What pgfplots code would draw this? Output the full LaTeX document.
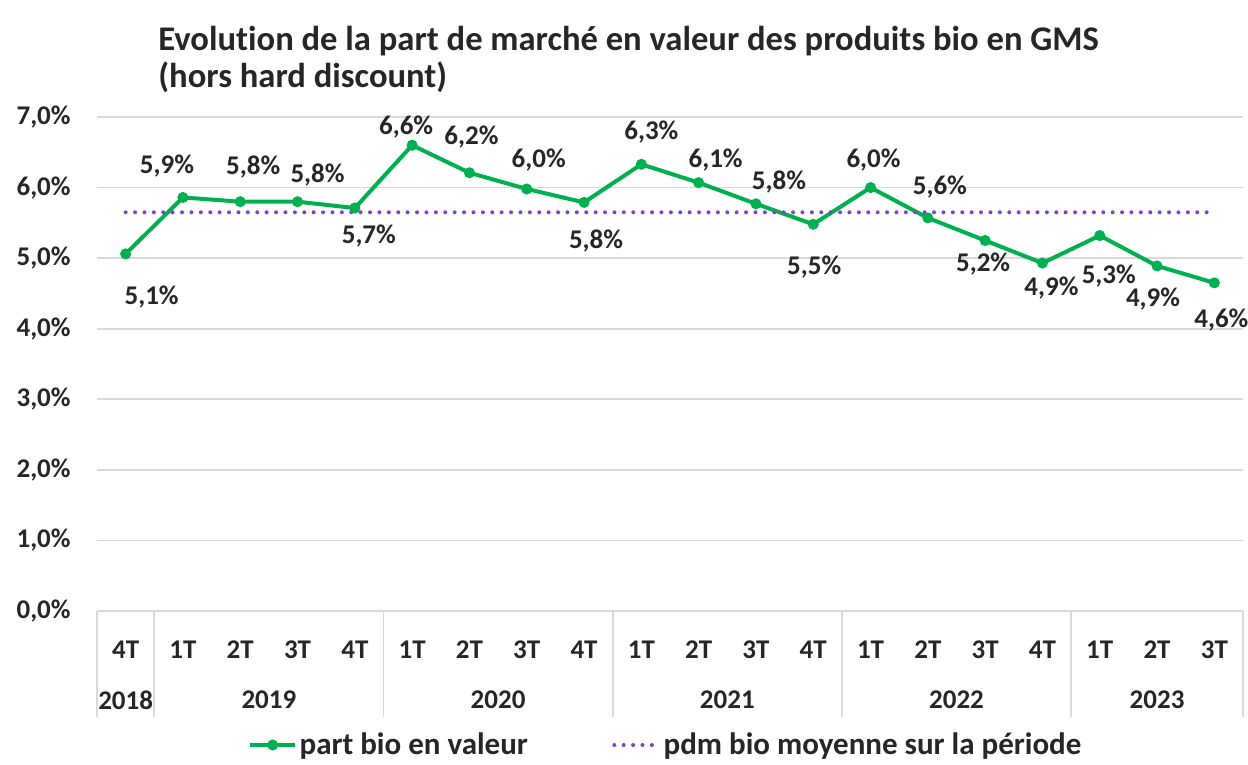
\documentclass[border=0pt]{standalone}
\usepackage{pgfplots}
\pgfplotsset{compat=1.18}
\usepackage{pgfplotstable}
\usepackage{fontspec}
\setmainfont{Carlito}[Ligatures=NoCommon]
\definecolor{bioGreen}{HTML}{00B050}
\definecolor{pdmPurple}{HTML}{8040C8}
\definecolor{gridGray}{HTML}{D9D9D9}
\definecolor{txt}{HTML}{262626}

\pgfplotstableread{
x y dx dy lab
0 5.06 13 -21.5 5,1
1 5.86 -8 15.5 5,9
2 5.80 6.5 17.5 5,8
3 5.80 10 13.5 5,8
4 5.71 7 -14 5,7
5 6.60 -3 9 6,6
6 6.21 1 18 6,2
7 5.98 6 14.5 6,0
8 5.79 6 -19.5 5,8
9 6.33 5 16 6,3
10 6.07 8.5 11.5 6,1
11 5.77 11.5 11 5,8
12 5.48 0.5 -21.5 5,5
13 6.00 1.5 14 6,0
14 5.57 6 15.5 5,6
15 5.25 -1 -12 5,2
16 4.93 4.5 -12.5 4,9
17 5.32 4.5 -20 5,3
18 4.89 -2 -16.5 4,9
19 4.65 3.5 -18.5 4,6
}\bio

\pgfplotstableread{
x y
0 5.65
19 5.65
}\moy

\begin{document}
\begin{tikzpicture}[x=1pt,y=1pt]
\useasboundingbox (0,0) rectangle (624,382.5);
\node[anchor=base west, text=txt, inner sep=0pt, font=\bfseries\fontsize{17.3}{20}\selectfont] at (79,357) {Evolution de la part de marché en valeur des produits bio en GMS};
\node[anchor=base west, text=txt, inner sep=0pt, font=\bfseries\fontsize{17.3}{20}\selectfont] at (79,338.5) {(hors hard discount)};
\begin{axis}[
  at={(48.5pt,77pt)}, anchor=south west,
  scale only axis, width=573pt, height=247pt,
  xmin=-0.5, xmax=19.5, ymin=0, ymax=7,
  ytick={0,1,...,7},
  ymajorgrids, grid style={gridGray, line width=0.9pt},
  axis line style={draw=none},
  major tick length=0pt,
  xtick={0,...,19},
  xticklabels={4T,1T,2T,3T,4T,1T,2T,3T,4T,1T,2T,3T,4T,1T,2T,3T,4T,1T,2T,3T},
  xticklabel style={anchor=center, yshift=-19.5pt, text=txt, font=\bfseries\fontsize{13.5}{15}\selectfont},
  yticklabel style={anchor=east, inner sep=0pt, xshift=-13pt, text=txt, font=\bfseries\fontsize{13.5}{15}\selectfont},
  /pgf/number format/assume math mode=true,
  yticklabel={\pgfmathprintnumber[fixed,fixed zerofill,precision=1,use comma]{\tick}\%},
  clip=false,
  legend columns=2,
  legend style={at={(0.4965,-0.2713)}, anchor=center, draw=none, fill=none,
    font=\bfseries\fontsize{15.5}{17}\selectfont, text=txt,
    nodes={inner sep=1.2pt},
    /tikz/every even column/.append style={column sep=41pt},
    inner sep=0pt},
  legend image code/.code={\draw[mark repeat=2,mark phase=2,#1] plot coordinates {(0pt,0pt) (11.25pt,0pt) (22.5pt,0pt)};},
]
\addplot[bioGreen, line width=2pt, mark=*, mark size=1.7pt,
  visualization depends on={\thisrow{dx}\as\dx},
  visualization depends on={\thisrow{dy}\as\dy},
  point meta=explicit symbolic,
  nodes near coords={\pgfplotspointmeta\%},
  nodes near coords style={anchor=center, xshift={\dx pt}, yshift={\dy pt}, text=txt, font=\bfseries\fontsize{13.5}{15}\selectfont, inner sep=0pt},
] table[x=x, y=y, meta=lab] {\bio};
\addlegendentry{part bio en valeur}
\addplot[pdmPurple, line width=2pt, dash pattern=on 0pt off 4.7pt, line cap=round] table[x=x,y=y] {\moy};
\addlegendentry{pdm bio moyenne sur la période}

\draw[gridGray, line width=0.9pt] (axis cs:-0.5,0) -- ([yshift=-53pt]axis cs:-0.5,0);
\draw[gridGray, line width=0.9pt] (axis cs:0.5,0) -- ([yshift=-53pt]axis cs:0.5,0);
\draw[gridGray, line width=0.9pt] (axis cs:4.5,0) -- ([yshift=-53pt]axis cs:4.5,0);
\draw[gridGray, line width=0.9pt] (axis cs:8.5,0) -- ([yshift=-53pt]axis cs:8.5,0);
\draw[gridGray, line width=0.9pt] (axis cs:12.5,0) -- ([yshift=-53pt]axis cs:12.5,0);
\draw[gridGray, line width=0.9pt] (axis cs:16.5,0) -- ([yshift=-53pt]axis cs:16.5,0);
\draw[gridGray, line width=0.9pt] (axis cs:19.5,0) -- ([yshift=-53pt]axis cs:19.5,0);
\begin{scope}[every node/.style={text=txt, font=\bfseries\fontsize{13.5}{15}\selectfont}]
\node at ([yshift=-44.5pt]axis cs:0,0) {2018};
\node at ([yshift=-44.5pt]axis cs:2.5,0) {2019};
\node at ([yshift=-44.5pt]axis cs:6.5,0) {2020};
\node at ([yshift=-44.5pt]axis cs:10.5,0) {2021};
\node at ([yshift=-44.5pt]axis cs:14.5,0) {2022};
\node at ([yshift=-44.5pt]axis cs:18,0) {2023};
\end{scope}
\end{axis}
\end{tikzpicture}
\end{document}
